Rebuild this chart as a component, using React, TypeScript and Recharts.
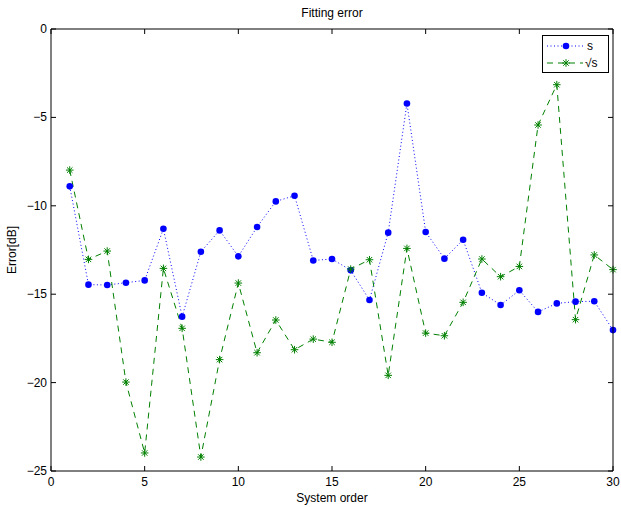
import React from "react";
import { LineChart, Line, XAxis, YAxis } from "recharts";

const orders = [1,2,3,4,5,6,7,8,9,10,11,12,13,14,15,16,17,18,19,20,21,22,23,24,25,26,27,28,29,30];
const sVals = [-8.9,-14.46,-14.48,-14.35,-14.22,-11.3,-16.27,-12.6,-11.39,-12.86,-11.2,-9.75,-9.43,-13.09,-13.01,-13.65,-15.33,-11.52,-4.21,-11.48,-12.99,-11.92,-14.92,-15.61,-14.78,-16.0,-15.52,-15.42,-15.4,-17.03];
const sqrtVals = [-7.98,-13.03,-12.56,-19.97,-23.98,-13.54,-16.93,-24.21,-18.7,-14.37,-18.31,-16.46,-18.14,-17.54,-17.72,-13.58,-13.05,-19.59,-12.41,-17.2,-17.35,-15.46,-13.01,-14.01,-13.43,-5.43,-3.15,-16.44,-12.78,-13.61];
const xTicks = [0,5,10,15,20,25,30];
const yTicks = [-25,-20,-15,-10,-5,0];
const seriesNames = ["s", "\u221As"];

const data = orders.map((x, i) => ({ x, s: sVals[i], r: sqrtVals[i] }));

const BLUE = "#0000ff";
const GREEN = "#008000";
const FONT = "'Liberation Sans', Arial, sans-serif";
const TICK = 5;

const W = 621, H = 507;
const M = { top: 29, right: 8, bottom: 0, left: 0 };
const X_AXIS_H = 36;
const Y_AXIS_W = 51;
const PLOT_L = M.left + Y_AXIS_W;
const PLOT_R = W - M.right;
const PLOT_T = M.top;
const PLOT_B = H - M.bottom - X_AXIS_H;

const fmt = (v: number) => String(v).replace("-", "\u2212");

const XTick = (p: any) => {
  const x = p.x;
  const v = p.payload?.value;
  return (
    <g key={"xt" + p.index}>
      <line x1={x} y1={PLOT_B} x2={x} y2={PLOT_B - TICK} stroke="#000" strokeWidth={1} />
      <line x1={x} y1={PLOT_T} x2={x} y2={PLOT_T + TICK} stroke="#000" strokeWidth={1} />
      {v === xTicks[xTicks.length - 1] ? (
        <line x1={x} y1={PLOT_T} x2={x} y2={PLOT_B} stroke="#000" strokeWidth={1} />
      ) : null}
      <text x={x} y={PLOT_B + 15} textAnchor="middle" fontSize={12} fontFamily={FONT} fill="#000">{fmt(v)}</text>
    </g>
  );
};

const YTick = (p: any) => {
  const y = p.y;
  const v = p.payload?.value;
  return (
    <g key={"yt" + p.index}>
      <line x1={PLOT_L} y1={y} x2={PLOT_L + TICK} y2={y} stroke="#000" strokeWidth={1} />
      <line x1={PLOT_R} y1={y} x2={PLOT_R - TICK} y2={y} stroke="#000" strokeWidth={1} />
      {v === yTicks[yTicks.length - 1] ? (
        <line x1={PLOT_L} y1={y} x2={PLOT_R} y2={y} stroke="#000" strokeWidth={1} />
      ) : null}
      <text x={PLOT_L - 4} y={y + 4} textAnchor="end" fontSize={12} fontFamily={FONT} fill="#000">{fmt(v)}</text>
    </g>
  );
};

const StarDot = (props: any) => {
  const { cx, cy, index } = props;
  if (cx == null || cy == null) return <g key={"st" + index} />;
  const r = 3.8;
  const d = r * 0.72;
  return (
    <g key={"st" + index} stroke={GREEN} strokeWidth={1}>
      <line x1={cx - r} y1={cy} x2={cx + r} y2={cy} />
      <line x1={cx} y1={cy - r} x2={cx} y2={cy + r} />
      <line x1={cx - d} y1={cy - d} x2={cx + d} y2={cy + d} />
      <line x1={cx - d} y1={cy + d} x2={cx + d} y2={cy - d} />
    </g>
  );
};

const LegendBox = () => (
  <g transform="translate(542,35)">
    <rect x={0.5} y={0.5} width={66} height={37} fill="#fff" stroke="#000" strokeWidth={1} />
    <line x1={5} y1={11} x2={41} y2={11} stroke={BLUE} strokeWidth={1} strokeDasharray="1 2.5" />
    <circle cx={24} cy={11} r={3.3} fill={BLUE} />
    <text x={45} y={15} fontSize={12} fontFamily={FONT} fill="#000">{seriesNames[0]}</text>
    <line x1={5} y1={28} x2={41} y2={28} stroke={GREEN} strokeWidth={1} strokeDasharray="6 5" />
    <StarDot cx={24} cy={28} index={99} />
    <text x={43} y={32} fontSize={12} fontFamily={FONT} fill="#000">{seriesNames[1]}</text>
  </g>
);

export default function App() {
  return (
    <div style={{ position: "absolute", left: 0, top: 0, width: W, height: H, background: "#fff" }}>
      <LineChart width={W} height={H} data={data} margin={M}>
        <XAxis
          dataKey="x"
          type="number"
          domain={[0, 30]}
          ticks={xTicks}
          height={X_AXIS_H}
          stroke="#000"
          tickLine={false}
          interval={0}
          tick={XTick}
          label={{ value: "System order", position: "insideBottom", offset: 5, fill: "#000", fontSize: 12, fontFamily: FONT }}
        />
        <YAxis
          type="number"
          domain={[-25, 0]}
          ticks={yTicks}
          width={Y_AXIS_W}
          stroke="#000"
          tickLine={false}
          interval={0}
          tick={YTick}
          label={{ value: "Error[dB]", angle: -90, position: "insideLeft", offset: 12, fill: "#000", fontSize: 12, fontFamily: FONT, style: { textAnchor: "middle" } }}
        />
        <Line
          dataKey="s"
          stroke={BLUE}
          strokeWidth={1}
          strokeDasharray="1 2.5"
          dot={{ r: 3.3, fill: BLUE, stroke: BLUE, strokeWidth: 0 }}
          activeDot={false}
          isAnimationActive={false}
        />
        <Line
          dataKey="r"
          stroke={GREEN}
          strokeWidth={1}
          strokeDasharray="6 5"
          dot={StarDot}
          activeDot={false}
          isAnimationActive={false}
        />
        <LegendBox />
        <text x={332} y={17} textAnchor="middle" fontSize={12} fontFamily={FONT} fill="#000">Fitting error</text>
      </LineChart>
    </div>
  );
}
